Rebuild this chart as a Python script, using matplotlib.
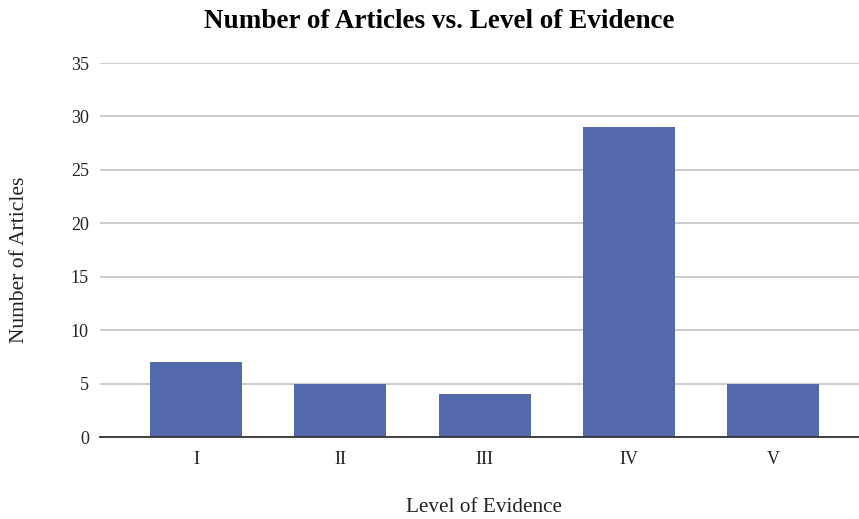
import matplotlib
matplotlib.use("Agg")
import matplotlib.pyplot as plt

# Datos
levels = ["I", "II", "III", "IV", "V"]
articles = [7, 5, 4, 29, 5]
y_ticks = [0, 5, 10, 15, 20, 25, 30, 35]

plt.rcParams["font.family"] = ["Liberation Serif", "DejaVu Serif"]

fig = plt.figure(figsize=(8.59, 5.19), dpi=100)
ax = fig.add_axes([100 / 859, 1 - 437 / 519, 759 / 859, 374 / 519])

ax.bar(range(len(levels)), articles, width=0.638, color="#5469ab", zorder=3)

ax.set_xlim(-0.666, 4.596)
ax.set_ylim(0, 35)
ax.set_yticks(y_ticks)
ax.set_xticks(range(len(levels)))
ax.set_xticklabels(levels)
ax.tick_params(axis="both", length=0, labelsize=13, colors="#222222")
ax.tick_params(axis="x", pad=10)
ax.tick_params(axis="y", pad=8)
ax.grid(axis="y", color="#c4c4c4", linewidth=1.2, zorder=0)
for side in ["top", "right", "left"]:
    ax.spines[side].set_visible(False)
ax.spines["bottom"].set_color("#333333")
ax.spines["bottom"].set_linewidth(1.3)
ax.spines["bottom"].set_zorder(4)

fig.text(439 / 859, 1 - 22 / 519, "Number of Articles vs. Level of Evidence",
         ha="center", va="center", fontsize=19.5, fontweight="bold", color="#000000")
fig.text(20 / 859, 1 - 260 / 519, "Number of Articles", rotation=90,
         ha="center", va="center", fontsize=15.5, color="#222222")
fig.text(484 / 859, 1 - 507 / 519, "Level of Evidence",
         ha="center", va="center", fontsize=15.3, color="#222222")

fig.savefig("out.png", dpi=100)
